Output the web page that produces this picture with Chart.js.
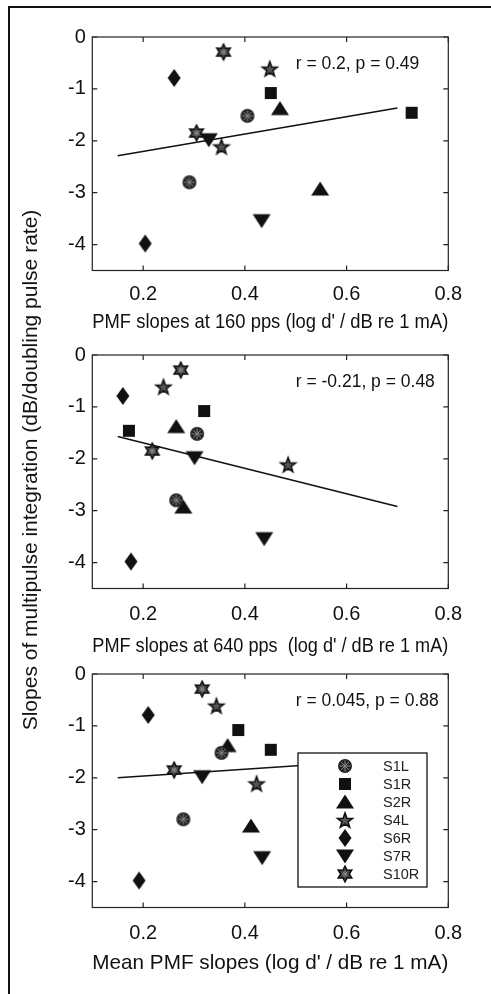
<!DOCTYPE html>
<html>
<head>
<meta charset="utf-8">
<script src="https://cdn.jsdelivr.net/npm/chart.js@4.4.1/dist/chart.umd.min.js"></script>
<style>
  body { margin: 0; background: #fff; }
  #wrap { position: relative; width: 491px; height: 994px; overflow: hidden; font-family: "Liberation Sans", Arial, sans-serif; }
  #frame { position: absolute; left: 8px; top: 6px; width: 500px; height: 1000px; border-top: 2px solid #111; border-left: 2px solid #111; }
  canvas { position: absolute; left: 0; }
  #ylab { position: absolute; left: -270px; top: 458px; width: 600px; line-height: 24px; font-size: 21px; text-align: center; white-space: nowrap; transform: rotate(-90deg); color: #111; }
</style>
</head>
<body>
<div id="wrap">
  <div id="frame"></div>
  <canvas id="c1" width="491" height="345" style="top:0px"></canvas>
  <canvas id="c2" width="491" height="345" style="top:318px"></canvas>
  <canvas id="c3" width="491" height="345" style="top:637px"></canvas>
  <div id="ylab">Slopes of multipulse integration (dB/doubling pulse rate)</div>
</div>
<script>
// subjects and their values (two ears/electrodes each)
const subjects = ['S1L', 'S1R', 'S2R', 'S4L', 'S6R', 'S7R', 'S10R'];
const ySlopes = [[-1.52, -2.80], [-1.08, -1.46], [-1.38, -2.93], [-0.61, -2.11], [-0.79, -3.98], [-1.98, -3.54], [-0.29, -1.85]];
const x160 = [[0.405, 0.291], [0.451, 0.728], [0.469, 0.548], [0.449, 0.354], [0.261, 0.204], [0.329, 0.433], [0.358, 0.305]];
const x640 = [[0.306, 0.265], [0.320, 0.172], [0.265, 0.279], [0.240, 0.485], [0.160, 0.176], [0.301, 0.438], [0.274, 0.218]];
const xMean = [[0.354, 0.279], [0.387, 0.451], [0.366, 0.412], [0.344, 0.423], [0.210, 0.192], [0.316, 0.434], [0.316, 0.261]];

// fitted lines: [x0, y0, x1, y1]
const fit160 = [0.15, -2.29, 0.70, -1.37];
const fit640 = [0.15, -1.57, 0.70, -2.92];
const fitMean = [0.15, -2.00, 0.70, -1.64];

const statTexts = ['r = 0.2, p = 0.49', 'r = -0.21, p = 0.48', 'r = 0.045, p = 0.88'];
const xTitles = ["PMF slopes at 160 pps (log d' / dB re 1 mA)", "PMF slopes at 640 pps  (log d' / dB re 1 mA)", "Mean PMF slopes (log d' / dB re 1 mA)"];
const xTicks = [0.2, 0.4, 0.6, 0.8];
const yTicks = [0, -1, -2, -3, -4];

Chart.defaults.font.family = '"Liberation Sans", Arial, sans-serif';

// marker images (matlab-ish symbols)
function starPath(g, n, R, r) {
  g.beginPath();
  for (let i = 0; i < 2 * n; i++) {
    const a = -Math.PI / 2 + i * Math.PI / n;
    const rr = i % 2 === 0 ? R : r;
    g.lineTo(rr * Math.cos(a), rr * Math.sin(a));
  }
  g.closePath();
}
function asterisk(g, r, col) {
  g.strokeStyle = col; g.lineWidth = 1;
  for (let i = 0; i < 4; i++) {
    const a = i * Math.PI / 4;
    g.beginPath(); g.moveTo(-r * Math.cos(a), -r * Math.sin(a)); g.lineTo(r * Math.cos(a), r * Math.sin(a)); g.stroke();
  }
}
function makeMarker(kind) {
  const c = document.createElement('canvas');
  c.width = 22; c.height = 22;
  const g = c.getContext('2d');
  g.translate(11, 11);
  g.fillStyle = '#111';
  if (kind === 'circle') {
    g.beginPath(); g.arc(0, 0, 7, 0, Math.PI * 2); g.fillStyle = '#222'; g.fill();
    asterisk(g, 5.5, '#8a8a8a');
  } else if (kind === 'square') {
    g.fillRect(-6, -6, 12, 12);
  } else if (kind === 'up') {
    g.beginPath(); g.moveTo(0, -7.5); g.lineTo(9, 6.5); g.lineTo(-9, 6.5); g.closePath(); g.fill();
  } else if (kind === 'down') {
    g.beginPath(); g.moveTo(0, 7.5); g.lineTo(9, -6.5); g.lineTo(-9, -6.5); g.closePath(); g.fill();
  } else if (kind === 'diamond') {
    g.beginPath(); g.moveTo(0, -9); g.lineTo(6.5, 0); g.lineTo(0, 9); g.lineTo(-6.5, 0); g.closePath(); g.fill();
  } else if (kind === 'penta') {
    g.translate(0, 0.8);
    starPath(g, 5, 7.8, 3.2);
    g.fillStyle = '#555'; g.fill();
    g.strokeStyle = '#111'; g.lineWidth = 1.6; g.stroke();
  } else if (kind === 'hexa') {
    starPath(g, 6, 7.8, 4.3);
    g.fillStyle = '#444'; g.fill();
    g.strokeStyle = '#111'; g.lineWidth = 1.5; g.stroke();
    asterisk(g, 3, '#888');
  }
  return c;
}
const markerKinds = ['circle', 'square', 'up', 'penta', 'diamond', 'down', 'hexa'];
const markers = markerKinds.map(makeMarker);

const AREA_W = 356, AREA_H = 233.5, LEFT = 92.3, TOP = 37, CANVAS_H = 345;
const XSCALE_H = CANVAS_H - TOP - AREA_H;

const boxPlugin = {
  id: 'boxPlugin',
  afterDatasetsDraw(chart, args, opts) {
    const {ctx, chartArea: a, scales: {x, y}} = chart;
    ctx.save();
    ctx.strokeStyle = '#222';
    ctx.lineWidth = 1.2;
    ctx.strokeRect(a.left, a.top, a.right - a.left, a.bottom - a.top);
    const tl = 5;
    ctx.beginPath();
    xTicks.forEach(v => {
      const px = x.getPixelForValue(v);
      ctx.moveTo(px, a.bottom); ctx.lineTo(px, a.bottom - tl);
      ctx.moveTo(px, a.top); ctx.lineTo(px, a.top + tl);
    });
    yTicks.forEach(v => {
      const py = y.getPixelForValue(v);
      ctx.moveTo(a.left, py); ctx.lineTo(a.left + tl, py);
      ctx.moveTo(a.right, py); ctx.lineTo(a.right - tl, py);
    });
    ctx.stroke();
    // r / p text
    ctx.fillStyle = '#111';
    ctx.font = '17.5px "Liberation Sans", Arial, sans-serif';
    ctx.textAlign = 'left';
    ctx.textBaseline = 'middle';
    ctx.fillText(opts.stat, x.getPixelForValue(0.5), y.getPixelForValue(-0.52));
    // legend box in the last panel
    if (opts.legend) {
      const bx = a.left + 205.7, by = a.top + 79, bw = 129, bh = 134;
      ctx.fillStyle = '#fff';
      ctx.fillRect(bx, by, bw, bh);
      ctx.strokeStyle = '#111';
      ctx.lineWidth = 1.3;
      ctx.strokeRect(bx, by, bw, bh);
      ctx.font = '14.5px "Liberation Sans", Arial, sans-serif';
      ctx.fillStyle = '#222';
      subjects.forEach((s, i) => {
        const cy = by + 13 + i * 18;
        const m = markers[i];
        ctx.drawImage(m, bx + 47 - m.width / 2, cy - m.height / 2);
        ctx.fillText(s, bx + 85, cy + 1);
      });
    }
    ctx.restore();
  }
};

function makePanel(id, xs, fit, stat, title, tickPad, titlePad, legend) {
  const datasets = subjects.map((s, i) => ({
    label: s,
    data: xs[i].map((v, j) => ({x: v, y: ySlopes[i][j]})),
    pointStyle: markers[i],
    pointRadius: 7,
    showLine: false
  }));
  datasets.push({
    type: 'line',
    label: 'fit',
    data: [{x: fit[0], y: fit[1]}, {x: fit[2], y: fit[3]}],
    borderColor: '#111',
    borderWidth: 1.5,
    pointRadius: 0,
    fill: false
  });
  return new Chart(document.getElementById(id), {
    type: 'scatter',
    data: {datasets},
    options: {
      responsive: false,
      animation: false,
      layout: {padding: {top: TOP, right: 491 - LEFT - AREA_W, left: 0, bottom: 0}},
      plugins: {
        legend: {display: false},
        tooltip: {enabled: false},
        boxPlugin: {stat, legend}
      },
      scales: {
        x: {
          type: 'linear', min: 0.1, max: 0.8,
          afterBuildTicks: s => { s.ticks = xTicks.map(v => ({value: v})); },
          afterFit: s => { s.height = XSCALE_H; s.paddingLeft = 0; s.paddingRight = 0; },
          grid: {display: false, drawTicks: false},
          border: {display: false},
          ticks: {color: '#111', font: {size: 20}, padding: tickPad, maxRotation: 0, callback: v => v.toFixed(1)},
          title: {display: true, text: title, color: '#111', font: {size: 21}, padding: {top: 0, bottom: titlePad}}
        },
        y: {
          type: 'linear', min: -4.5, max: 0,
          afterBuildTicks: s => { s.ticks = yTicks.map(v => ({value: v})); },
          afterFit: s => { s.width = LEFT; s.paddingTop = 0; s.paddingBottom = 0; },
          grid: {display: false, drawTicks: false},
          border: {display: false},
          ticks: {color: '#111', font: {size: 20}, padding: 6.5, callback: v => String(v)}
        }
      }
    },
    plugins: [boxPlugin]
  });
}

makePanel('c1', x160, fit160, statTexts[0], xTitles[0], 12, 10.4, false);
makePanel('c2', x640, fit640, statTexts[1], xTitles[1], 13.5, 3.9, false);
makePanel('c3', xMean, fitMean, statTexts[2], xTitles[2], 13.5, 6.6, true);
</script>
</body>
</html>
